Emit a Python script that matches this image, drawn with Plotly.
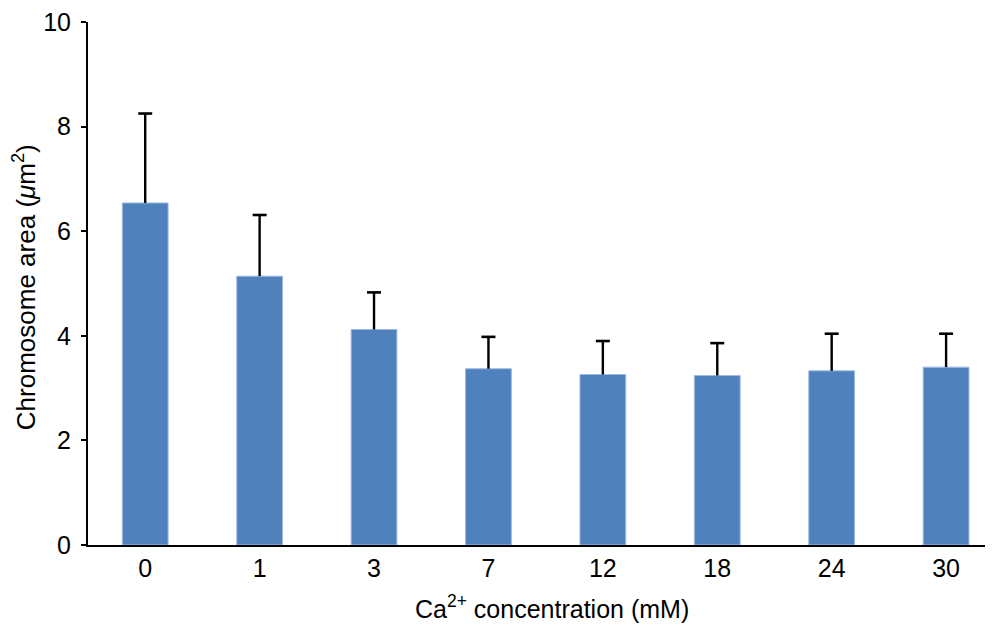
import plotly.graph_objects as go

categories = ["0", "1", "3", "7", "12", "18", "24", "30"]
means = [6.54, 5.14, 4.12, 3.37, 3.26, 3.24, 3.33, 3.40]
upper = [8.25, 6.31, 4.83, 3.98, 3.90, 3.86, 4.04, 4.04]
errors = [u - m for u, m in zip(upper, means)]
y_ticks = [0, 2, 4, 6, 8, 10]

xs = list(range(len(categories)))

fig = go.Figure()
fig.add_trace(go.Bar(
    x=xs, y=means, width=0.40,
    marker=dict(color="#4F81BD", line=dict(color="#9DB9E0", width=1)),
))
# error bars (upper only): vertical stem from mean to upper, cap at upper
fig.add_trace(go.Scatter(
    x=xs, y=upper, mode="markers",
    marker=dict(symbol="line-ew", size=10, color="black",
                line=dict(color="black", width=2.6)),
    error_y=dict(type="data", symmetric=False, array=[0] * len(upper),
                 arrayminus=errors, color="black", thickness=2.4, width=0),
    hoverinfo="skip",
))

font = "Liberation Sans, Arial, sans-serif"
fs = 25
fig.update_layout(
    width=993, height=628,
    margin=dict(l=80, r=8, t=14, b=91),
    paper_bgcolor="white", plot_bgcolor="white",
    showlegend=False,
    font=dict(family=font, size=fs, color="black"),
    xaxis=dict(
        range=[-0.5, 7.41], automargin=False,
        tickmode="array", tickvals=xs, ticktext=categories,
        showline=True, linecolor="black", linewidth=2,
        ticks="", showgrid=False, zeroline=False,
        tickfont=dict(size=fs), ticklabeloverflow="allow",
    ),
    yaxis=dict(
        range=[0, 10], automargin=False,
        tickmode="array", tickvals=y_ticks,
        showline=True, linecolor="black", linewidth=2,
        ticks="outside", ticklen=5, tickwidth=2, tickcolor="black",
        showgrid=False, zeroline=False,
        tickfont=dict(size=fs), ticklabeloverflow="allow",
        ticklabelstandoff=5,
    ),
    annotations=[
        dict(text="Ca<sup>2+</sup> concentration (mM)", xref="paper", yref="paper",
             x=0.513, y=0, xanchor="center", yanchor="middle", yshift=-62,
             showarrow=False, font=dict(size=fs)),
        dict(text="Chromosome area (<i>μ</i>m<sup>2</sup>)", xref="paper", yref="paper",
             x=0, y=0.493, xanchor="center", yanchor="middle", xshift=-64,
             textangle=-90, showarrow=False, font=dict(size=26)),
    ],
)

fig.write_html("out.html")
